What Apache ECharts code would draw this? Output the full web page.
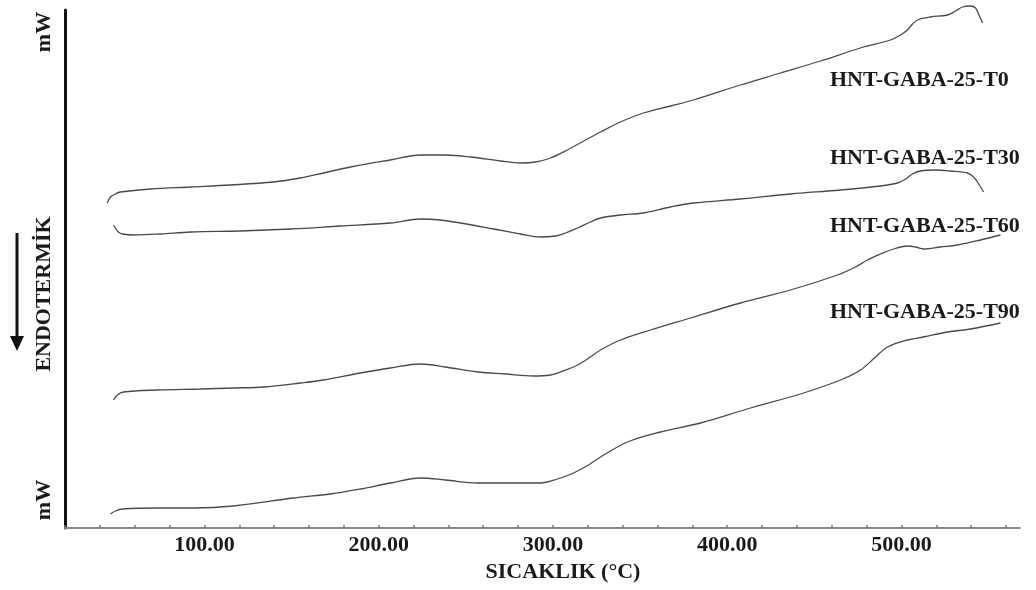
<!DOCTYPE html>
<html>
<head>
<meta charset="utf-8">
<script src="https://cdn.jsdelivr.net/npm/echarts@6/dist/echarts.min.js"></script>
<style>
  html, body { margin: 0; padding: 0; background: #fff; }
  #chart { width: 1036px; height: 590px; }
</style>
</head>
<body>
<div id="chart"></div>
<script>
// ---- Data (temperature °C, heat flow in arbitrary mW units, offset per curve) ----
const seriesNames = ['HNT-GABA-25-T0', 'HNT-GABA-25-T30', 'HNT-GABA-25-T60', 'HNT-GABA-25-T90'];

const tempT0 = [44.3, 46.1, 48.9, 51.8, 69.0, 92.0, 114.9, 139.6, 155.1, 168.3, 183.8, 206.7, 224.0, 238.3, 252.7, 269.9, 281.3, 290.0, 298.6, 308.3, 318.7, 327.3, 338.7, 351.9, 367.4, 380.6, 407.6, 430.6, 453.5, 478.2, 493.7, 499.4, 503.4, 506.3, 509.2, 516.6, 526.4, 531.0, 535.0, 539.6, 542.5, 544.2, 546.5];
const hfT0   = [325, 331, 334, 336, 339, 341, 343, 346, 350, 355, 361, 368, 373, 373, 371, 367, 365, 366, 370, 378, 388, 396, 406, 415, 422, 428, 443, 455, 467, 481, 488, 493, 498, 504, 508, 511, 513, 517, 521, 522, 520, 514, 505];

const tempT30 = [47.8, 48.9, 50.6, 52.9, 59.3, 74.7, 92.0, 120.7, 149.4, 178.0, 206.7, 224.0, 235.4, 246.9, 265.9, 281.3, 292.8, 301.4, 307.2, 314.1, 321.5, 327.3, 338.7, 351.9, 367.4, 380.6, 407.6, 436.3, 465.0, 488.0, 497.7, 502.4, 506.3, 510.9, 519.5, 528.1, 537.9, 541.3, 543.6, 547.1];
const hfT30   = [303, 300, 296, 294, 293, 294, 296, 297, 299, 302, 305, 309, 308, 305, 299, 294, 291, 292, 295, 300, 306, 310, 313, 315, 321, 325, 329, 334, 338, 342, 345, 349, 354, 357, 358, 357, 355, 351, 346, 336];

const tempT60 = [47.8, 50.1, 53.5, 73.0, 97.7, 116.6, 133.9, 155.1, 168.3, 189.5, 206.7, 224.0, 238.3, 256.7, 272.7, 288.8, 298.6, 304.3, 314.1, 321.5, 327.3, 338.7, 356.0, 378.9, 407.6, 436.3, 463.3, 473.6, 480.5, 488.0, 493.7, 503.4, 508.0, 512.6, 522.4, 532.1, 545.3, 556.8];
const hfT60   = [128, 133, 136, 138, 139, 140, 141, 145, 148, 155, 160, 164, 161, 156, 154, 152, 153, 156, 163, 171, 178, 188, 198, 210, 225, 238, 253, 261, 268, 274, 278, 282, 281, 279, 281, 283, 288, 293];

const tempT90 = [46.1, 48.9, 52.9, 74.7, 93.7, 116.6, 151.1, 172.3, 189.5, 206.7, 224.0, 238.3, 256.7, 275.6, 292.8, 302.6, 311.8, 320.4, 327.3, 342.8, 361.7, 384.7, 413.3, 442.0, 465.0, 476.5, 485.1, 492.0, 503.4, 512.6, 526.4, 539.6, 556.8];
const hfT90   = [14, 17, 19, 20, 20, 22, 30, 34, 39, 45, 50, 48, 45, 45, 45, 49, 55, 63, 71, 86, 96, 105, 120, 134, 148, 158, 171, 181, 188, 191, 196, 199, 205];

const xTickLabels = [100, 200, 300, 400, 500];
const xAxisTitle = 'SICAKLIK (°C)';
const yTopLabel = 'mW';
const yBottomLabel = 'mW';
const yMiddleLabel = 'ENDOTERMİK';

// ---- Build ----
const temps = [tempT0, tempT30, tempT60, tempT90];
const hfs = [hfT0, hfT30, hfT60, hfT90];
const FONT = '"Liberation Serif", "Times New Roman", serif';

const chart = echarts.init(document.getElementById('chart'), null, { renderer: 'canvas' });

const series = seriesNames.map((name, i) => ({
  name: name,
  type: 'line',
  data: temps[i].map((t, k) => [t, hfs[i][k]]),
  showSymbol: false,
  smooth: 0.35,
  clip: false,
  lineStyle: { color: '#4a4a4a', width: 1.3 },
  silent: true
}));

const labelY = [80, 158, 226, 312];
const graphics = seriesNames.map((name, i) => ({
  type: 'text',
  x: 830,
  y: labelY[i],
  style: {
    text: name,
    font: 'bold 22px ' + FONT,
    fill: '#1a1a1a',
    textAlign: 'left',
    textVerticalAlign: 'middle'
  }
}));

graphics.push(
  { type: 'text', x: 44, y: 32, rotation: Math.PI / 2,
    style: { text: yTopLabel, font: 'bold 22px ' + FONT, fill: '#1a1a1a', textAlign: 'center', textVerticalAlign: 'middle' } },
  { type: 'text', x: 44, y: 294, rotation: Math.PI / 2,
    style: { text: yMiddleLabel, font: 'bold 22px ' + FONT, fill: '#1a1a1a', textAlign: 'center', textVerticalAlign: 'middle' } },
  { type: 'text', x: 44, y: 500, rotation: Math.PI / 2,
    style: { text: yBottomLabel, font: 'bold 22px ' + FONT, fill: '#1a1a1a', textAlign: 'center', textVerticalAlign: 'middle' } },
  { type: 'line', shape: { x1: 17, y1: 233, x2: 17, y2: 340 },
    style: { stroke: '#111', lineWidth: 3 } },
  { type: 'polygon', shape: { points: [[10, 336], [24, 336], [17, 351]] },
    style: { fill: '#111' } }
);

chart.setOption({
  animation: false,
  backgroundColor: '#ffffff',
  grid: { left: 65, right: 16, top: 10, bottom: 62 },
  xAxis: {
    type: 'value',
    min: 20,
    max: 568,
    interval: 20,
    name: xAxisTitle,
    nameLocation: 'middle',
    nameGap: 32,
    nameTextStyle: { fontFamily: FONT, fontWeight: 'bold', fontSize: 22, color: '#1a1a1a', padding: [0, 0, 0, 41] },
    axisLine: { show: true, onZero: false, lineStyle: { color: '#8a8a8a', width: 2 } },
    axisTick: { show: true, inside: true, length: 3, lineStyle: { color: '#777', width: 1.5 } },
    axisLabel: {
      margin: 6,
      fontFamily: FONT, fontWeight: 'bold', fontSize: 22, color: '#1a1a1a',
      showMaxLabel: false,
      formatter: function (v) { return xTickLabels.indexOf(v) >= 0 ? v.toFixed(2) : ''; }
    },
    splitLine: { show: false }
  },
  yAxis: {
    type: 'value',
    min: 0,
    max: 518,
    axisLine: { show: true, onZero: false, lineStyle: { color: '#111', width: 3 } },
    axisTick: { show: false },
    axisLabel: { show: false },
    splitLine: { show: false }
  },
  graphic: graphics,
  series: series
});
</script>
</body>
</html>
